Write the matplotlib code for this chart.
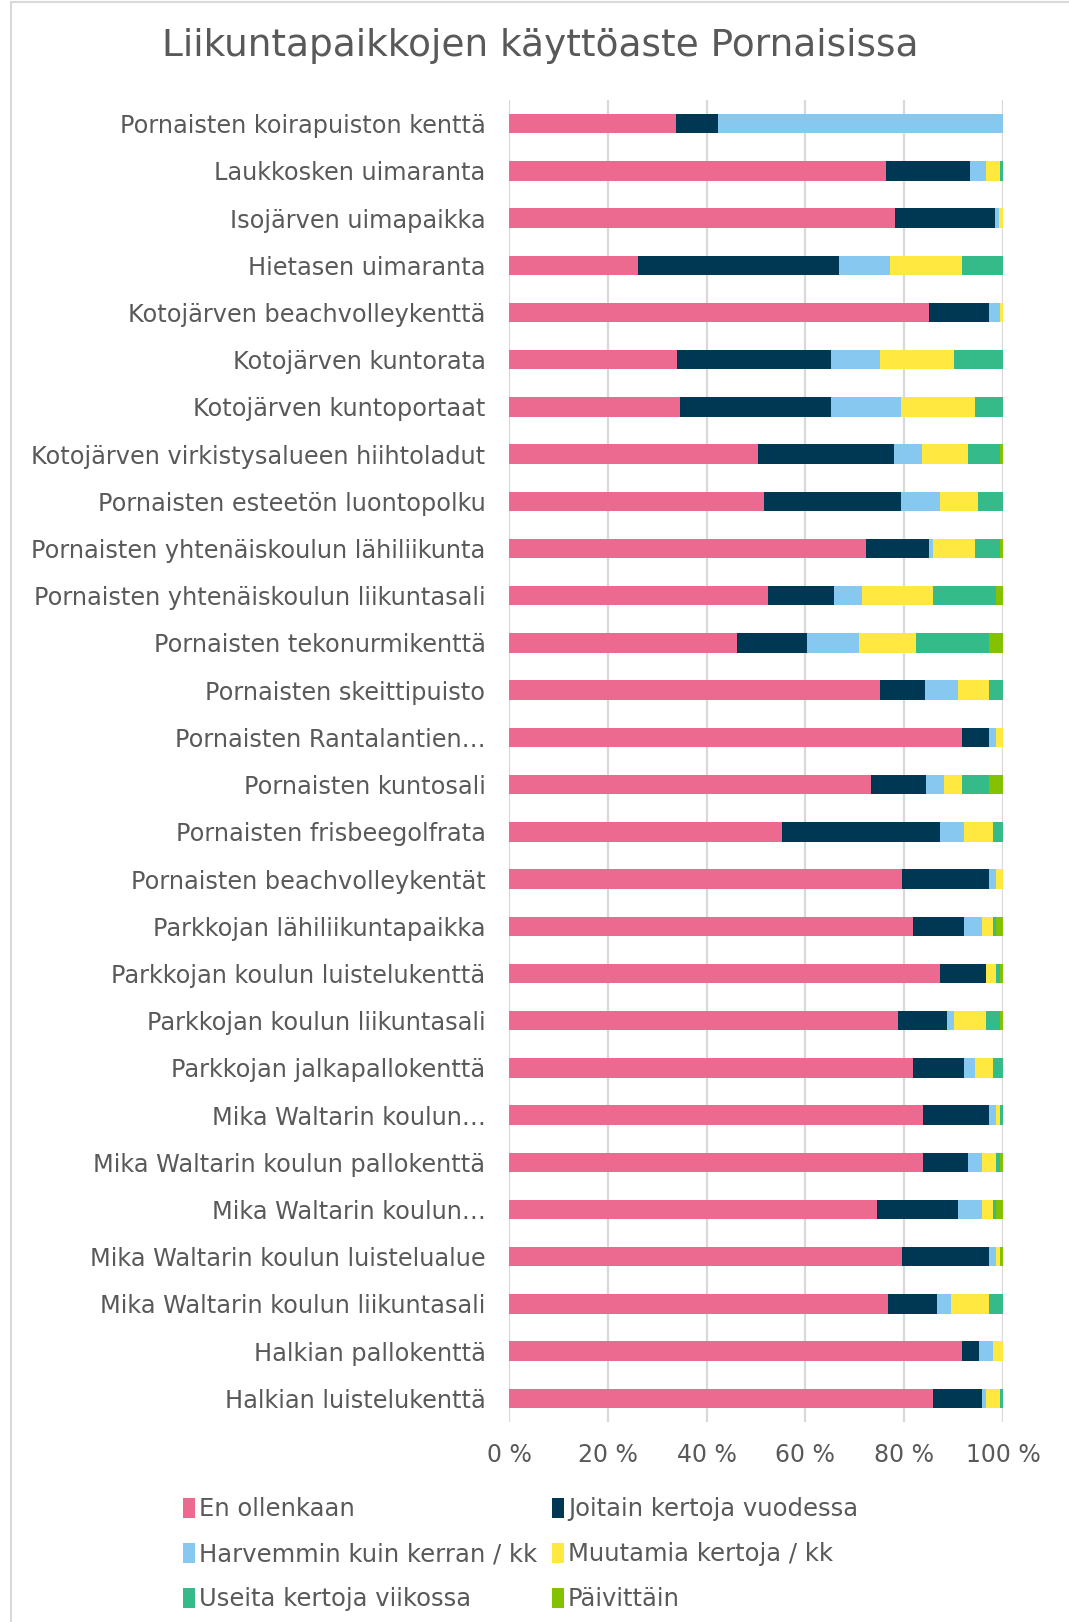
import numpy as np
import matplotlib
matplotlib.use("Agg")
from matplotlib import pyplot as plt
from matplotlib.patches import Patch, Rectangle

places = [
    "Pornaisten koirapuiston kenttä",
    "Laukkosken uimaranta",
    "Isojärven uimapaikka",
    "Hietasen uimaranta",
    "Kotojärven beachvolleykenttä",
    "Kotojärven kuntorata",
    "Kotojärven kuntoportaat",
    "Kotojärven virkistysalueen hiihtoladut",
    "Pornaisten esteetön luontopolku",
    "Pornaisten yhtenäiskoulun lähiliikunta",
    "Pornaisten yhtenäiskoulun liikuntasali",
    "Pornaisten tekonurmikenttä",
    "Pornaisten skeittipuisto",
    "Pornaisten Rantalantien…",
    "Pornaisten kuntosali",
    "Pornaisten frisbeegolfrata",
    "Pornaisten beachvolleykentät",
    "Parkkojan lähiliikuntapaikka",
    "Parkkojan koulun luistelukenttä",
    "Parkkojan koulun liikuntasali",
    "Parkkojan jalkapallokenttä",
    "Mika Waltarin koulun…",
    "Mika Waltarin koulun pallokenttä",
    "Mika Waltarin koulun…",
    "Mika Waltarin koulun luistelualue",
    "Mika Waltarin koulun liikuntasali",
    "Halkian pallokenttä",
    "Halkian luistelukenttä",
]

series_names = [
    "En ollenkaan",
    "Joitain kertoja vuodessa",
    "Harvemmin kuin kerran / kk",
    "Muutamia kertoja / kk",
    "Useita kertoja viikossa",
    "Päivittäin",
]
colors = ["#EC6A8F", "#003752", "#86C8F0", "#FFE941", "#35BA8A", "#84C100"]

# shares in %, one list per answer, same order as places
en_ollenkaan = [33.8, 76.4, 78.1, 26.2, 85.1, 34.0, 34.7, 50.4, 51.7, 72.3,
                52.4, 46.1, 75.2, 91.6, 73.2, 55.3, 79.5, 81.8, 87.3, 78.8,
                81.8, 83.8, 83.9, 74.5, 79.5, 76.7, 91.6, 85.9]
joitain = [8.5, 16.9, 20.3, 40.7, 12.1, 31.2, 30.5, 27.6, 27.7, 12.8,
           13.4, 14.2, 9.1, 5.6, 11.3, 31.9, 17.7, 10.4, 9.2, 9.9,
           10.4, 13.4, 9.1, 16.3, 17.7, 9.9, 3.5, 9.9]
harvemmin = [57.7, 3.3, 0.8, 10.2, 2.1, 10.0, 14.2, 5.7, 7.8, 0.7,
             5.7, 10.6, 6.5, 1.4, 3.5, 5.0, 1.4, 3.6, 0.0, 1.4,
             2.2, 1.4, 2.8, 5.0, 1.4, 2.8, 2.8, 0.7]
muutamia = [0.0, 2.7, 0.8, 14.5, 0.7, 14.9, 15.0, 9.3, 7.8, 8.5,
            14.3, 11.5, 6.4, 1.4, 3.6, 5.7, 1.4, 2.1, 2.1, 6.5,
            3.5, 0.7, 2.8, 2.1, 0.7, 7.8, 2.1, 2.8]
useita = [0.0, 0.7, 0.0, 8.4, 0.0, 9.9, 5.6, 6.3, 5.0, 5.0,
          12.8, 14.8, 2.8, 0.0, 5.6, 2.1, 0.0, 0.7, 0.7, 2.7,
          2.1, 0.7, 0.7, 0.7, 0.0, 2.8, 0.0, 0.7]
paivittain = [0.0, 0.0, 0.0, 0.0, 0.0, 0.0, 0.0, 0.7, 0.0, 0.7,
              1.4, 2.8, 0.0, 0.0, 2.8, 0.0, 0.0, 1.4, 0.7, 0.7,
              0.0, 0.0, 0.7, 1.4, 0.7, 0.0, 0.0, 0.0]

xticks = [0, 20, 40, 60, 80, 100]
xtick_labels = ["0 %", "20 %", "40 %", "60 %", "80 %", "100 %"]

txt = "#595959"

fig = plt.figure(figsize=(10.69, 16.22), dpi=100)
ax = fig.add_axes([509/1069, 1 - 1422/1622, 494/1069, 1322/1622])

data = np.array([en_ollenkaan, joitain, harvemmin, muutamia, useita, paivittain])
data = data / data.sum(axis=0) * 100  # 100 % stacked

y = np.arange(len(places))
left = np.zeros(len(places))
handles = []
for vals, name, c in zip(data, series_names, colors):
    ax.barh(y, vals, left=left, height=0.41, color=c, zorder=3)
    left += vals
    handles.append(Patch(facecolor=c, label=name))

ax.set_ylim(len(places) - 0.5, -0.5)
ax.set_xlim(0, 100)
ax.set_yticks(y)
ax.set_yticklabels(places, fontsize=17.3, color=txt)
ax.set_xticks(xticks)
ax.set_xticklabels(xtick_labels, fontsize=17, color=txt)
ax.tick_params(axis="y", length=0, pad=17)
ax.tick_params(axis="x", length=0, pad=15)
ax.grid(axis="x", color="#D9D9D9", linewidth=1.6, zorder=0)
for s in ax.spines.values():
    s.set_visible(False)

fig.text(540/1069, 1 - 46/1622, "Liikuntapaikkojen käyttöaste Pornaisissa",
         ha="center", va="center", fontsize=27, color=txt)

# chart frame
fig.patches.append(Rectangle((11/1069, -0.01), 1.0, 1 - 2/1622 + 0.01,
                             transform=fig.transFigure, fill=False,
                             edgecolor="#D9D9D9", linewidth=1.5))

order = [0, 2, 4, 1, 3, 5]
fig.legend([handles[i] for i in order], [series_names[i] for i in order],
           ncol=2, loc="upper left", bbox_to_anchor=(183/1069, 1 - 1497/1622),
           frameon=False, fontsize=17.5, labelcolor=txt,
           handlelength=0.5, handleheight=0.9, handletextpad=0.15,
           columnspacing=0.63, labelspacing=0.87, borderpad=0, borderaxespad=0)

fig.savefig("out.png", dpi=100, facecolor="white")
